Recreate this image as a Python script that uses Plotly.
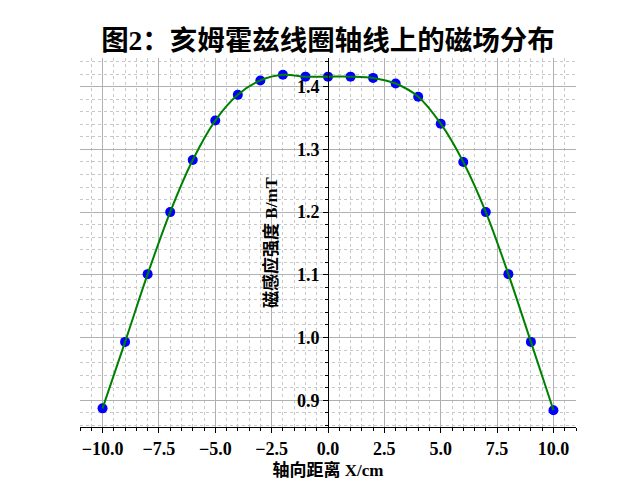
import plotly.graph_objects as go

# Data
x_cm = [-10, -9, -8, -7, -6, -5, -4, -3, -2, -1, 0, 1, 2, 3, 4, 5, 6, 7, 8, 9, 10]
b_mT = [0.887, 0.993, 1.101, 1.200, 1.283, 1.346, 1.387, 1.410, 1.419, 1.416, 1.416,
        1.416, 1.414, 1.405, 1.384, 1.341, 1.280, 1.200, 1.101, 0.993, 0.884]

x_tickvals = [-10, -7.5, -5, -2.5, 0, 2.5, 5, 7.5, 10]
x_ticktext = ["\u221210.0", "\u22127.5", "\u22125.0", "\u22122.5", "0.0", "2.5", "5.0", "7.5", "10.0"]
y_tickvals = [0.9, 1.0, 1.1, 1.2, 1.3, 1.4]
y_ticktext = ["0.9", "1.0", "1.1", "1.2", "1.3", "1.4"]

title_text = "图2：亥姆霍兹线圈轴线上的磁场分布"
xlabel = "轴向距离 X/cm"
ylabel = "磁感应强度 B/mT"

# matplotlib-like 5% margins
xspan = max(x_cm) - min(x_cm)
xr = [min(x_cm) - 0.05 * xspan, max(x_cm) + 0.05 * xspan]
yspan = max(b_mT) - min(b_mT)
yr = [min(b_mT) - 0.05 * yspan, max(b_mT) + 0.05 * yspan]

SERIF = "Liberation Serif, Noto Sans CJK SC, serif"

fig = go.Figure()
fig.add_trace(go.Scatter(x=x_cm, y=b_mT, mode="markers",
                         marker=dict(color="#0000ff", size=10, line=dict(width=0)),
                         showlegend=False))
fig.add_trace(go.Scatter(x=x_cm, y=b_mT, mode="lines",
                         line=dict(color="#008000", width=2, shape="spline"),
                         showlegend=False))

fig.update_layout(
    width=640, height=480,
    margin=dict(l=80, r=64, t=58, b=53, autoexpand=False),
    paper_bgcolor="white", plot_bgcolor="white",
    title=dict(text=title_text, x=0.5, xanchor="center", xref="paper",
               y=1 - 40 / 480, yref="container", yanchor="middle",
               font=dict(family=SERIF, size=27.5, color="black", weight="bold")),
    xaxis=dict(
        range=xr, tickvals=x_tickvals, ticktext=x_ticktext, automargin=False,
        showline=True, linecolor="black", linewidth=1,
        ticks="outside", ticklen=5, tickwidth=1, tickcolor="black",
        showgrid=True, gridcolor="#b0b0b0", gridwidth=1, zeroline=False,
        tickfont=dict(family=SERIF, size=18, color="black", weight="bold"),
        minor=dict(dtick=0.5, ticks="outside", ticklen=3, tickwidth=1, tickcolor="black",
                   showgrid=True, gridcolor="#c8c8c8", griddash="dot", gridwidth=1),
        title=dict(text=xlabel, standoff=6,
                   font=dict(family=SERIF, size=17, color="black", weight="bold")),
    ),
    yaxis=dict(
        range=yr, tickvals=y_tickvals, ticktext=y_ticktext, automargin=False,
        anchor="free", position=(0 - xr[0]) / (xr[1] - xr[0]),
        showline=True, linecolor="black", linewidth=1,
        ticks="outside", ticklen=5, tickwidth=1, tickcolor="black",
        showgrid=True, gridcolor="#b0b0b0", gridwidth=1, zeroline=False,
        tickfont=dict(family=SERIF, size=18, color="black", weight="bold"),
        minor=dict(dtick=0.02, ticks="outside", ticklen=3, tickwidth=1, tickcolor="black",
                   showgrid=True, gridcolor="#c8c8c8", griddash="dot", gridwidth=1),
        title=dict(text=ylabel, standoff=13,
                   font=dict(family=SERIF, size=17, color="black", weight="bold")),
    ),
)

fig.write_html("out.html")
